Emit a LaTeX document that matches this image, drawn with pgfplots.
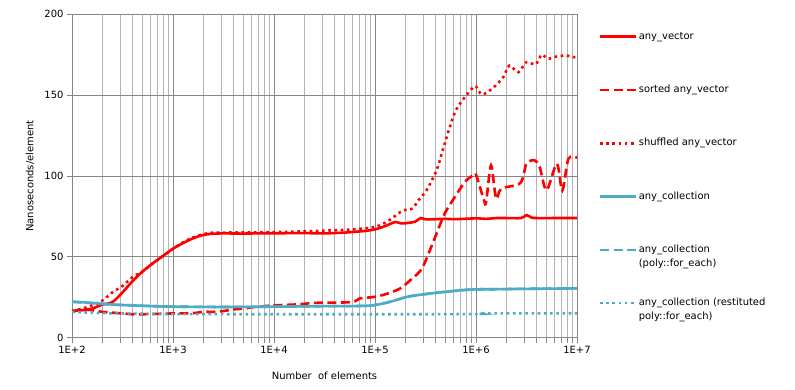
\documentclass[border=0pt]{standalone}
\usepackage{pgfplots}
\pgfplotsset{compat=1.18}
\usepackage{fontspec}
\setmainfont{DejaVu Sans}
\definecolor{aqua}{HTML}{4BACC6}
\definecolor{majgrid}{HTML}{868686}
\definecolor{mingrid}{HTML}{B4B4B4}
\newcommand{\twoline}[2]{\vtop{\baselineskip=14bp\hbox{#1}\hbox{#2}}}
\begin{document}
\fontsize{10}{12}\selectfont
\begin{tikzpicture}
\path[use as bounding box] (-72bp,-52.3bp) rectangle (723bp,337.7bp);
\begin{axis}[
  scale only axis, width=505bp, height=323.4bp,
  at={(0,0)}, anchor=south west,
  xmode=log, log basis x=10,
  xmin=100, xmax=1e7, ymin=0, ymax=200,
  xtick={1e2,1e3,1e4,1e5,1e6,1e7},
  xticklabels={1E+2,1E+3,1E+4,1E+5,1E+6,1E+7},
  minor xtick={200,300,400,500,600,700,800,900,
    2000,3000,4000,5000,6000,7000,8000,9000,
    20000,30000,40000,50000,60000,70000,80000,90000,
    200000,300000,400000,500000,600000,700000,800000,900000,
    2000000,3000000,4000000,5000000,6000000,7000000,8000000,9000000},
  ytick={0,50,100,150,200},
  grid=both,
  major grid style={majgrid, line width=0.8bp},
  minor grid style={mingrid, line width=0.8bp},
  axis line style={majgrid, line width=0.8bp},
  tick style={majgrid, line width=0.8bp},
  tick align=outside, tick pos=left,
  major tick length=5bp, minor tick length=5bp,
  /pgf/number format/assume math mode=true,
  xlabel={Number\ \ of elements},
  ylabel={Nanoseconds/element},
  every axis x label/.style={at={(axis description cs:0.5,-0.118)}, anchor=center},
  every axis y label/.style={at={(axis description cs:-0.083,0.5)}, rotate=90, anchor=center},
  legend style={at={(axis description cs:1.0426,0.953)}, anchor=north west,
    draw=none, fill=none, inner sep=0pt, row sep=39.3bp,
    nodes={inner sep=1.5bp, text height=8bp, text depth=3bp}},
  legend cell align=left,
  legend image code/.code={\draw[#1] (0bp,0bp) -- (36bp,0bp);},
]
% any_vector
\addplot[red, line width=2.6bp, smooth] coordinates {
(100,16.5) (126,17) (158,18) (200,20.5) (251,22) (316,28) (398,35) (501,41)
(631,46) (794,50.5) (1000,55) (1259,58.5) (1585,61.5) (1995,63.5) (2512,64.3)
(3162,64.5) (5012,64.4) (7943,64.6) (10000,64.5) (15849,64.7) (25119,64.6)
(31623,64.5) (50119,65) (63096,65.5) (79433,66) (100000,67) (126000,69)
(158000,71.5) (178000,70.8) (200000,70.8) (251000,71.8) (282000,74)
(316000,73.2) (400000,73.3) (500000,73.5) (631000,73.3) (1000000,73.8)
(1260000,73.5) (1580000,74) (2000000,74) (2800000,74) (3160000,75.8)
(3550000,74.3) (4000000,74) (6310000,74) (10000000,74)};
\addlegendentry{any\_vector}
% sorted any_vector
\addplot[red, line width=2.6bp, dash pattern=on 9bp off 4.5bp, smooth] coordinates {
(100,16) (126,17.5) (158,17) (200,16) (251,15.5) (316,15) (398,14.5) (501,14.5)
(1000,15) (1585,15.2) (1995,16) (2512,16) (3162,16.5) (3981,17.5) (5012,18)
(6310,19) (7943,19.5) (10000,20) (15849,20.5) (20000,21) (25119,21.5)
(31623,21.7) (50119,21.8) (63096,22.5) (70800,24.3) (100000,25.3)
(135000,27.4) (178000,30.5) (224000,35.6) (288000,42.2) (339000,52)
(407000,64.4) (490000,76.8) (617000,87) (776000,96.3) (933000,100.4)
(1000000,100.8) (1200000,85) (1260000,84) (1410000,106.6) (1580000,86)
(1780000,92.2) (2750000,95.7) (3160000,107.6) (3800000,109.7) (4270000,105.6)
(5000000,91.2) (6310000,107.6) (7160000,91) (8220000,110.7) (10000000,111.3)};
\addlegendentry{sorted any\_vector}
% shuffled any_vector
\addplot[red, line width=2.6bp, dash pattern=on 2.6bp off 3.6bp, smooth] coordinates {
(100,16.5) (126,18) (158,20) (200,23) (251,28) (316,32) (398,37.5) (501,41)
(631,46) (794,50.5) (1000,55) (1259,59) (1585,62) (1995,64) (2512,65)
(3162,65) (10000,65.3) (20000,65.8) (35000,66.3) (60000,67) (100000,68.5)
(135000,72.2) (186000,78.4) (234000,79.9) (269000,85) (324000,91.2)
(407000,103.5) (468000,115.9) (550000,130.2) (631000,140.6) (776000,148.8)
(933000,154.6) (1000000,155.4) (1150000,150.4) (1480000,154.6)
(1860000,161.1) (2140000,168.3) (2630000,164.2) (3160000,170.4)
(3890000,169) (4470000,175) (5130000,172.5) (6310000,173.9) (7940000,174.5)
(9120000,173.5) (10000000,173.5)};
\addlegendentry{shuffled any\_vector}
% any_collection
\addplot[aqua, line width=2.6bp, smooth] coordinates {
(100,22.3) (158,21.5) (251,20.5) (398,20) (631,19.5) (1000,19.2) (3162,19)
(10000,19.2) (31623,19.5) (70000,19.6) (100000,20.2) (141000,22.2)
(209000,25.3) (300000,26.8) (500000,28.4) (800000,29.6) (1000000,29.9)
(1580000,30) (3000000,30.2) (10000000,30.5)};
\addlegendentry{any\_collection}
% any_collection (poly::for_each)
\addplot[aqua, line width=2.6bp, dash pattern=on 9bp off 4.5bp, smooth] coordinates {
(100,22.2) (158,21.4) (251,20.5) (398,20) (631,19.5) (1000,19.2) (3162,19)
(10000,19.2) (31623,19.5) (70000,19.6) (100000,20.2) (141000,22.2)
(209000,25.3) (300000,26.8) (500000,28.4) (800000,29.6) (1000000,29.9)
(1580000,30) (3000000,30.2) (10000000,30.5)};
\addlegendentry{\twoline{any\_collection}{(poly::for\_each)}}
% any_collection (restituted poly::for_each)
\addplot[aqua, line width=2.6bp, dash pattern=on 2.6bp off 3.6bp, smooth] coordinates {
(100,16) (200,15.2) (500,14.8) (1000,14.6) (10000,14.5) (100000,14.5)
(1000000,14.6) (1200000,15) (10000000,15.1)};
\addlegendentry{\twoline{any\_collection (restituted}{poly::for\_each)}}
\end{axis}
\end{tikzpicture}
\end{document}
